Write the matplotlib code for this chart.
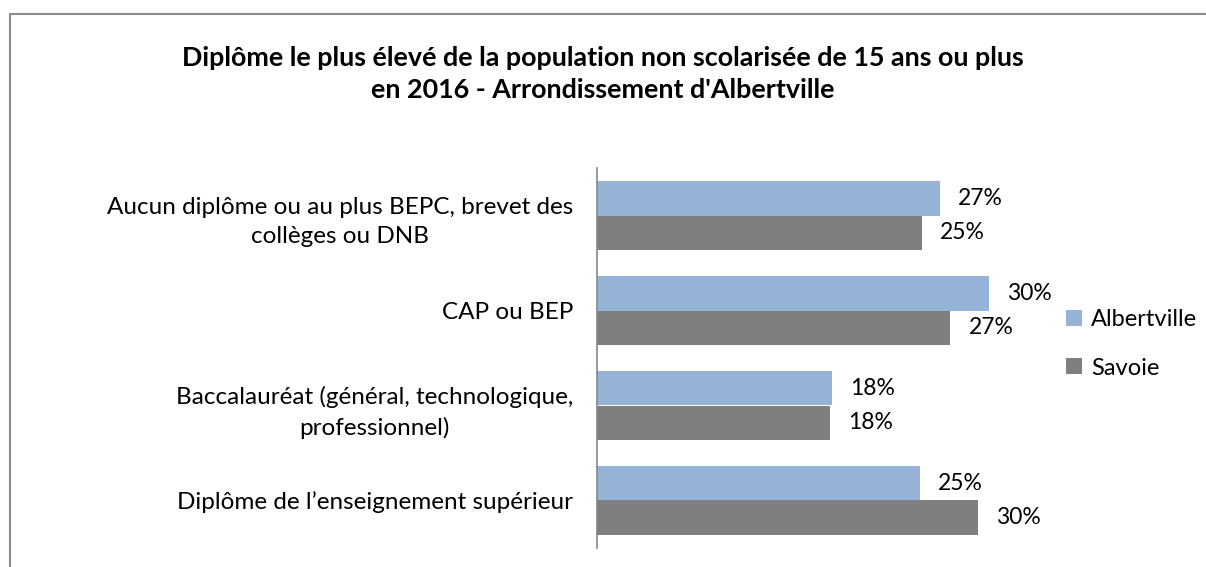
import matplotlib
matplotlib.use("Agg")
import matplotlib.pyplot as plt
from matplotlib.lines import Line2D

plt.rcParams['font.family'] = ['Lato', 'DejaVu Sans']

categories = ["Aucun diplôme ou au plus BEPC, brevet des\ncollèges ou DNB",
              "CAP ou BEP",
              "Baccalauréat (général, technologique,\nprofessionnel)",
              "Diplôme de l\u2019enseignement supérieur"]
albertville = [26.6, 30.4, 18.2, 25.0]
savoie = [25.2, 27.4, 18.1, 29.5]
series_names = ["Albertville", "Savoie"]
colors = ["#95B3D7", "#7F7F7F"]

W, H = 1206, 567
fig = plt.figure(figsize=(W / 100, H / 100), dpi=100)

x0, x1 = 597, 1023
y_top, y_bot = 168, 548
ax = fig.add_axes([x0 / W, 1 - y_bot / H, (x1 - x0) / W, (y_bot - y_top) / H])

ys = list(range(len(categories)))
h = 0.36
b1 = ax.barh([y - h / 2 for y in ys], albertville, height=h, color=colors[0], label=series_names[0])
b2 = ax.barh([y + h / 2 for y in ys], savoie, height=h, color=colors[1], label=series_names[1])

for bars, vals in ((b1, albertville), (b2, savoie)):
    for bar, v in zip(bars, vals):
        ax.text(bar.get_width() + 1.4, bar.get_y() + bar.get_height() / 2, f"{round(v):d}%",
                va='center', ha='left', fontsize=16.5, color='black')

ax.set_xlim(0, (x1 - x0) / 12.9)
ax.set_ylim(len(categories) - 0.5, -0.5)
ax.set_xticks([])
ax.set_yticks(ys)
ax.set_yticklabels(categories, fontsize=17.5)
for t in ax.get_yticklabels():
    t.set_multialignment('center')
    t.set_linespacing(1.5)
ax.tick_params(axis='y', length=0, pad=17)
for s in ['top', 'right', 'bottom']:
    ax.spines[s].set_visible(False)
ax.spines['left'].set_color('#868686')
ax.spines['left'].set_linewidth(1.2)

fig.text(603 / W, 1 - 74 / H, "Diplôme le plus élevé de la population non scolarisée de 15 ans ou plus\nen 2016 - Arrondissement d'Albertville",
         ha='center', va='center', fontsize=19.4, fontweight='bold', linespacing=1.35)

leg = fig.legend(handles=[b1, b2], labels=series_names, loc='center left',
                 bbox_to_anchor=(1045 / W, 1 - 344 / H), frameon=False, fontsize=17,
                 handlelength=0.65, handleheight=0.65, handletextpad=0.4, labelspacing=1.15)

fig.add_artist(Line2D([10 / W, 10 / W], [0, 1 - 14 / H], color='#8c8c8c', lw=1.5, transform=fig.transFigure))
fig.add_artist(Line2D([10 / W, 1], [1 - 14 / H, 1 - 14 / H], color='#8c8c8c', lw=1.5, transform=fig.transFigure))

fig.savefig("out.png", dpi=100)
